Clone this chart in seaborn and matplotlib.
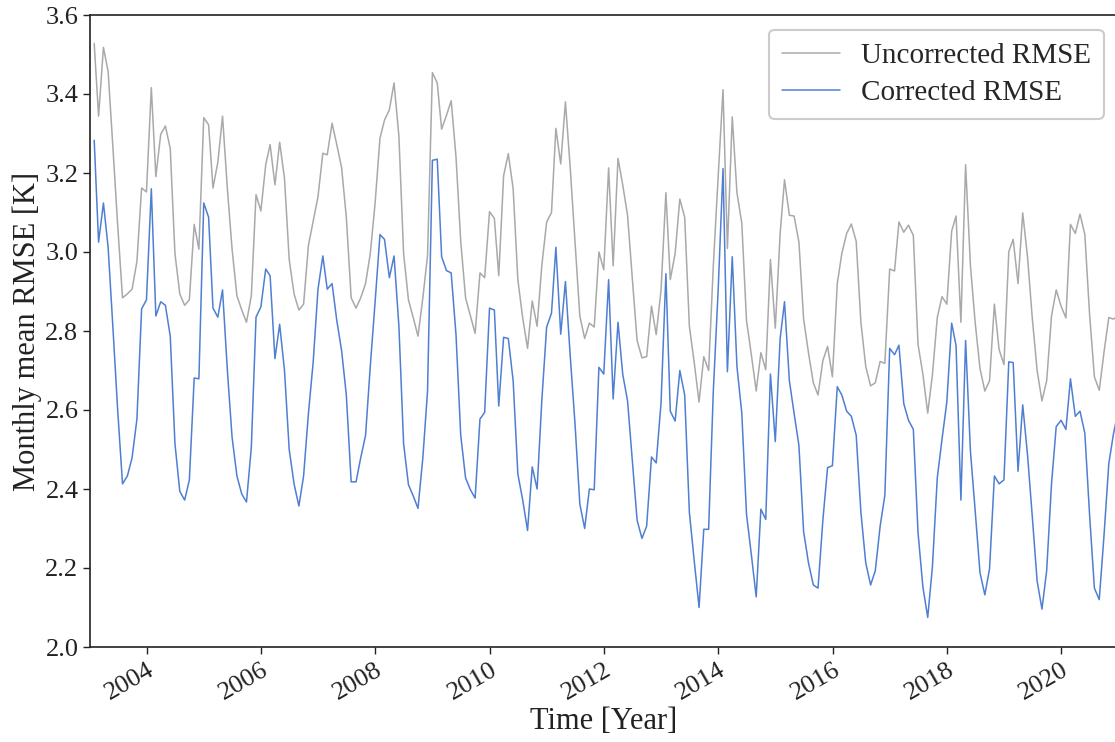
import numpy as np
import pandas as pd
import matplotlib
matplotlib.use("Agg")
import matplotlib.pyplot as plt
import matplotlib.dates as mdates
from matplotlib.ticker import FormatStrFormatter
import seaborn as sns

# ---------------- data (monthly, month-end dates from Jan 2003) ----------------
first_month_end = "2003-01-31"
n_months = 216

uncorrected = [
    3.528, 3.344, 3.518, 3.457, 3.262, 3.068, 2.884, 2.894, 2.906, 2.976, 3.162, 3.152,  # 2003
    3.416, 3.191, 3.298, 3.319, 3.262, 2.996, 2.894, 2.865, 2.879, 3.070, 3.007, 3.340,  # 2004
    3.322, 3.162, 3.227, 3.344, 3.160, 3.007, 2.889, 2.853, 2.822, 2.889, 3.145, 3.104,  # 2005
    3.221, 3.272, 3.170, 3.278, 3.186, 2.981, 2.894, 2.853, 2.868, 3.017, 3.078, 3.140,  # 2006
    3.250, 3.246, 3.326, 3.272, 3.213, 3.088, 2.884, 2.858, 2.884, 2.920, 2.996, 3.124,  # 2007
    3.288, 3.334, 3.360, 3.428, 3.293, 2.996, 2.879, 2.833, 2.787, 2.884, 2.991, 3.454,  # 2008
    3.428, 3.311, 3.346, 3.383, 3.240, 3.027, 2.884, 2.838, 2.794, 2.947, 2.935, 3.102,  # 2009
    3.085, 2.940, 3.193, 3.249, 3.160, 2.930, 2.833, 2.756, 2.876, 2.812, 2.965, 3.076,  # 2010
    3.100, 3.313, 3.223, 3.380, 3.211, 3.027, 2.838, 2.781, 2.820, 2.810, 3.000, 2.955,  # 2011
    3.213, 2.965, 3.237, 3.170, 3.093, 2.935, 2.776, 2.732, 2.735, 2.863, 2.791, 2.904,  # 2012
    3.150, 2.930, 2.996, 3.134, 3.088, 2.812, 2.720, 2.620, 2.735, 2.700, 2.965, 3.191,  # 2013
    3.411, 3.009, 3.342, 3.150, 3.073, 2.827, 2.740, 2.648, 2.745, 2.702, 2.981, 2.807,  # 2014
    3.047, 3.183, 3.093, 3.091, 3.025, 2.830, 2.745, 2.669, 2.638, 2.725, 2.761, 2.684,  # 2015
    2.920, 2.996, 3.047, 3.071, 3.027, 2.822, 2.710, 2.661, 2.669, 2.723, 2.718, 2.957,  # 2016
    2.952, 3.076, 3.050, 3.068, 3.042, 2.766, 2.691, 2.592, 2.689, 2.834, 2.887, 2.868,  # 2017
    3.053, 3.091, 2.822, 3.221, 2.965, 2.822, 2.705, 2.648, 2.674, 2.868, 2.753, 2.715,  # 2018
    3.001, 3.032, 2.920, 3.099, 2.986, 2.833, 2.700, 2.623, 2.674, 2.838, 2.904, 2.863,  # 2019
    2.833, 3.070, 3.047, 3.096, 3.044, 2.843, 2.684, 2.650, 2.745, 2.834, 2.830, 2.840,  # 2020
]

corrected = [
    3.283, 3.025, 3.124, 3.012, 2.806, 2.600, 2.413, 2.433, 2.479, 2.577, 2.856, 2.879,  # 2003
    3.160, 2.838, 2.874, 2.865, 2.787, 2.515, 2.394, 2.372, 2.423, 2.681, 2.679, 3.124,  # 2004
    3.088, 2.858, 2.835, 2.904, 2.700, 2.531, 2.433, 2.387, 2.367, 2.505, 2.835, 2.861,  # 2005
    2.957, 2.940, 2.730, 2.817, 2.700, 2.500, 2.413, 2.357, 2.433, 2.592, 2.720, 2.906,  # 2006
    2.990, 2.906, 2.920, 2.827, 2.750, 2.638, 2.418, 2.418, 2.479, 2.536, 2.710, 2.874,  # 2007
    3.044, 3.032, 2.935, 2.990, 2.812, 2.515, 2.411, 2.382, 2.351, 2.479, 2.648, 3.232,  # 2008
    3.235, 2.988, 2.953, 2.947, 2.790, 2.536, 2.428, 2.398, 2.377, 2.577, 2.594, 2.858,  # 2009
    2.853, 2.610, 2.784, 2.781, 2.674, 2.438, 2.372, 2.295, 2.456, 2.400, 2.623, 2.810,  # 2010
    2.845, 3.012, 2.792, 2.925, 2.735, 2.567, 2.362, 2.300, 2.400, 2.398, 2.708, 2.691,  # 2011
    2.930, 2.628, 2.822, 2.691, 2.623, 2.474, 2.321, 2.275, 2.306, 2.481, 2.466, 2.618,  # 2012
    2.945, 2.597, 2.572, 2.700, 2.638, 2.341, 2.218, 2.100, 2.298, 2.298, 2.648, 2.904,  # 2013
    3.211, 2.697, 2.988, 2.710, 2.592, 2.336, 2.234, 2.127, 2.349, 2.323, 2.691, 2.520,  # 2014
    2.781, 2.874, 2.674, 2.592, 2.510, 2.292, 2.213, 2.157, 2.149, 2.321, 2.454, 2.459,  # 2015
    2.659, 2.638, 2.597, 2.584, 2.536, 2.341, 2.213, 2.157, 2.193, 2.306, 2.384, 2.756,  # 2016
    2.740, 2.764, 2.616, 2.574, 2.551, 2.290, 2.152, 2.075, 2.203, 2.428, 2.525, 2.620,  # 2017
    2.820, 2.763, 2.372, 2.776, 2.495, 2.346, 2.188, 2.132, 2.198, 2.433, 2.413, 2.423,  # 2018
    2.722, 2.720, 2.445, 2.613, 2.485, 2.331, 2.167, 2.096, 2.193, 2.413, 2.558, 2.574,  # 2019
    2.551, 2.679, 2.584, 2.597, 2.541, 2.336, 2.149, 2.120, 2.280, 2.464, 2.540, 2.600,  # 2020
]

series_names = ["Uncorrected RMSE", "Corrected RMSE"]
series_colors = ["#a9a9a9", "#4f7fd2"]
y_ticks = [2.0, 2.2, 2.4, 2.6, 2.8, 3.0, 3.2, 3.4, 3.6]

# ---------------- build long-form table ----------------
dates = pd.date_range(first_month_end, periods=n_months, freq=pd.offsets.MonthEnd())
df = pd.DataFrame({
    "date": list(dates) + list(dates),
    "rmse": uncorrected + corrected,
    "series": [series_names[0]] * n_months + [series_names[1]] * n_months,
})

# ---------------- style ----------------
sns.set_theme(style="ticks")
plt.rcParams["font.family"] = ["Liberation Serif", "DejaVu Serif"]
plt.rcParams["axes.edgecolor"] = "#222222"
plt.rcParams["axes.linewidth"] = 1.2

W, H = 1115, 742
fig = plt.figure(figsize=(W / 100, H / 100), dpi=100)
left_px, right_px, top_px, bottom_px = 89.5, 1118.5, 15, 647
ax = fig.add_axes([left_px / W, 1 - bottom_px / H,
                   (right_px - left_px) / W, (bottom_px - top_px) / H])

sns.lineplot(data=df, x="date", y="rmse", hue="series",
             palette=dict(zip(series_names, series_colors)),
             estimator=None, linewidth=1.1, ax=ax)

ax.set_xlim(pd.Timestamp("2003-01-01"), pd.Timestamp("2021-01-01"))
ax.set_ylim(2.0, 3.6)
ax.set_yticks(y_ticks)
ax.yaxis.set_major_formatter(FormatStrFormatter("%.1f"))
ax.xaxis.set_major_locator(mdates.YearLocator(2))
ax.xaxis.set_major_formatter(mdates.DateFormatter("%Y"))

ax.tick_params(axis="both", labelsize=19, length=5, width=1.0, colors="#222222")
ax.tick_params(axis="y", pad=3)
for lab in ax.get_xticklabels():
    lab.set_rotation(30)
    lab.set_ha("right")
    lab.set_rotation_mode("anchor")

ax.set_xlabel("Time [Year]", fontsize=22, color="#222222", labelpad=2)
ax.set_ylabel("Monthly mean RMSE [K]", fontsize=22, color="#222222", labelpad=2)

leg = ax.legend(loc="upper right", fontsize=21, frameon=True, fancybox=True,
                handlelength=2.0, handletextpad=0.7, borderpad=0.45,
                labelspacing=0.35)
leg.get_frame().set_edgecolor("#cccccc")
leg.get_frame().set_linewidth(1.5)
leg.get_frame().set_alpha(1.0)

fig.savefig("out.png", dpi=100)
